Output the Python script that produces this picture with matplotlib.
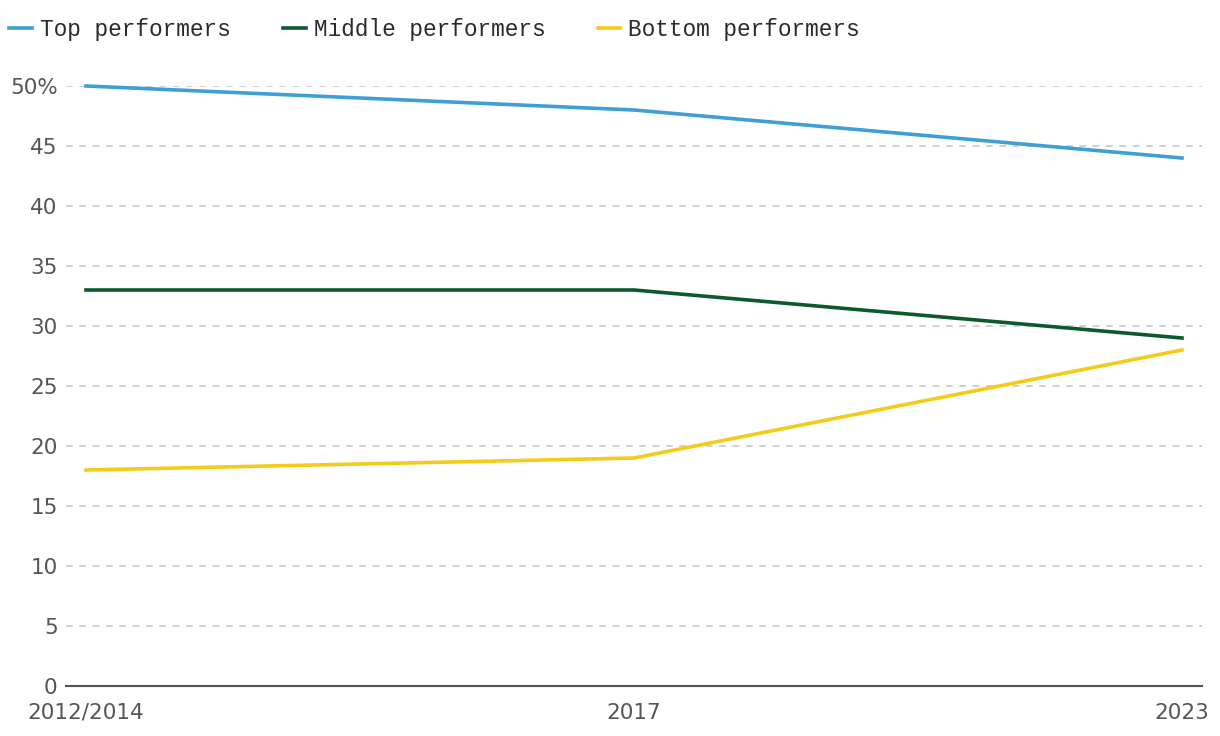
from matplotlib import pyplot as plt

# data
periods = ["2012/2014", "2017", "2023"]
top_perf = [50, 48, 44]
middle_perf = [33, 33, 29]
bottom_perf = [18, 19, 28]
y_ticks = [0, 5, 10, 15, 20, 25, 30, 35, 40, 45, 50]
y_labels = ["0", "5", "10", "15", "20", "25", "30", "35", "40", "45", "50%"]

fig = plt.figure(figsize=(12.2, 7.36), dpi=100)
ax = fig.add_axes([66 / 1220, 1 - 686 / 736, (1202 - 66) / 1220, (686 - 86) / 736])

x = range(len(periods))
ax.plot(x, top_perf, color="#3d9fd3", linewidth=2.6, label="Top performers", clip_on=False, zorder=3)
ax.plot(x, middle_perf, color="#0b5a2c", linewidth=2.6, label="Middle performers", clip_on=False, zorder=3)
ax.plot(x, bottom_perf, color="#f4cb19", linewidth=2.6, label="Bottom performers", clip_on=False, zorder=3)

ax.set_xlim(-20 / 548, 2 + 20 / 548)
ax.set_ylim(0, 50)
ax.set_xticks(list(x))
ax.set_xticklabels(periods)
ax.set_yticks(y_ticks)
ax.set_yticklabels(y_labels)

# dashed grid, only the bottom spine left
ax.yaxis.grid(True, linestyle=(0, (4, 4)), color="#c8c8c8", linewidth=1.2)
ax.set_axisbelow(True)
for side in ["top", "right", "left"]:
    ax.spines[side].set_visible(False)
ax.spines["bottom"].set_color("#555555")
ax.spines["bottom"].set_linewidth(1.5)
ax.tick_params(axis="both", length=0, labelsize=15.5, labelcolor="#555555")
ax.tick_params(axis="y", pad=6)
ax.tick_params(axis="x", pad=12)
for lbl in ax.get_xticklabels() + ax.get_yticklabels():
    lbl.set_fontfamily("DejaVu Sans")

leg = fig.legend(loc="upper left", bbox_to_anchor=(9 / 1220, 1 - 18 / 736), ncol=3, frameon=False,
                 prop={"family": "Liberation Mono", "size": 16.4}, handlelength=1.0,
                 handletextpad=0.35, columnspacing=2.3, borderpad=0, borderaxespad=0)
for t in leg.get_texts():
    t.set_color("#2a2a2a")

fig.savefig("out.png", dpi=100)
